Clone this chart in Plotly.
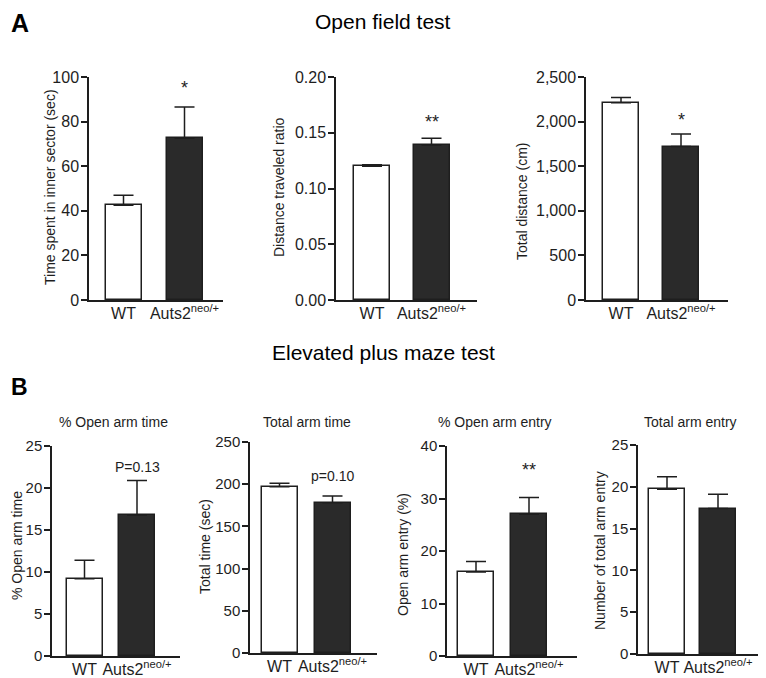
import plotly.graph_objects as go

# group labels
groups = ['WT', 'Auts2<sup>neo/+</sup>']

# panel A: open field test (mean, upper error end)
inner_time = [42.5, 72.5]
inner_time_err = [47.0, 86.5]
dist_ratio = [0.120, 0.139]
dist_ratio_err = [0.1212, 0.145]
total_dist = [2210, 1720]
total_dist_err = [2270, 1860]

# panel B: elevated plus maze (mean, upper error end)
open_arm_time = [9.2, 16.8]
open_arm_time_err = [11.4, 20.9]
total_arm_time = [197, 178]
total_arm_time_err = [201, 186]
open_arm_entry = [16.0, 27.0]
open_arm_entry_err = [18.0, 30.2]
total_arm_entry = [19.7, 17.4]
total_arm_entry_err = [21.2, 19.1]

W, H = 766, 678
OFF = 8  # page body margin
INK = '#1e1e1e'
FONT = 'Liberation Sans, Arial, sans-serif'


def fx(px):
    return (px - OFF) / W


def fy(py):
    return 1 - (py - OFF) / H


panels = [
    # px = (axis, wt centre, auts centre, end), py = (top, bottom), tpos = y-title position
    dict(v=inner_time, e=inner_time_err, yt='Time spent in inner sector (sec)', yr=[0, 100], dt=20, fmt='',
         mark='*', my=95, px=(89, 123.5, 184.5, 223), py=(77, 300), tpos=(50, 187), tf=16, mf=18, ttl=None),
    dict(v=dist_ratio, e=dist_ratio_err, yt='Distance traveled ratio', yr=[0, 0.2], dt=0.05, fmt='.2f',
         mark='**', my=0.16, px=(336, 372, 431.5, 477), py=(77, 300), tpos=(279, 187), tf=16, mf=18, ttl=None),
    dict(v=total_dist, e=total_dist_err, yt='Total distance (cm)', yr=[0, 2500], dt=500, fmt=',',
         mark='*', my=2020, px=(586, 621, 681, 728), py=(77, 300), tpos=(522, 202), tf=16, mf=18, ttl=None),
    dict(v=open_arm_time, e=open_arm_time_err, yt='% Open arm time', yr=[0, 25], dt=5, fmt='',
         mark='P=0.13', my=22.5, px=(52, 84.5, 137, 180), py=(446, 656), tpos=(17, 546), tf=15, mf=14,
         ttl=('% Open arm time', 113)),
    dict(v=total_arm_time, e=total_arm_time_err, yt='Total time (sec)', yr=[0, 250], dt=50, fmt='',
         mark='p=0.10', my=210, px=(250, 279.5, 332.5, 377), py=(442, 653), tpos=(205, 547), tf=15, mf=14,
         ttl=('Total arm time', 307)),
    dict(v=open_arm_entry, e=open_arm_entry_err, yt='Open arm entry (%)', yr=[0, 40], dt=10, fmt='',
         mark='**', my=35.4, px=(447, 476, 529, 577), py=(446, 656), tpos=(403, 555), tf=15, mf=18,
         ttl=('% Open arm entry', 495)),
    dict(v=total_arm_entry, e=total_arm_entry_err, yt='Number of total arm entry', yr=[0, 25], dt=5, fmt='',
         mark='', my=0, px=(638, 667, 718, 766), py=(445, 654), tpos=(600, 551), tf=15, mf=14,
         ttl=('Total arm entry', 690)),
]

fig = go.Figure()
layout = {}
annotations = []

for i, p in enumerate(panels, start=1):
    ax0, c0, c1, ax1 = p['px']
    step = c1 - c0
    xr = [(ax0 - c0) / step, (ax1 - c0) / step]
    bw = 36 / step
    xs = 'x' if i == 1 else f'x{i}'
    ys = 'y' if i == 1 else f'y{i}'
    up = [e - v for v, e in zip(p['v'], p['e'])]
    fig.add_trace(go.Bar(
        x=groups, y=p['v'], width=bw,
        marker=dict(color=['white', '#2a2a2a'], line=dict(color=INK, width=1.5)),
        error_y=dict(type='data', array=up, arrayminus=[0, 0], symmetric=False,
                     color=INK, thickness=1.5, width=10),
        xaxis=xs, yaxis=ys, showlegend=False,
    ))
    top, bot = p['py']
    layout['xaxis' if i == 1 else f'xaxis{i}'] = dict(
        domain=[fx(ax0), fx(ax1)], anchor=ys, range=xr, showgrid=False, zeroline=False,
        showline=True, linecolor=INK, linewidth=1.5, ticks='', automargin=False,
        ticklabelstandoff=-2,
        tickfont=dict(size=16, color=INK, family=FONT), fixedrange=True,
    )
    layout['yaxis' if i == 1 else f'yaxis{i}'] = dict(
        domain=[fy(bot), fy(top)], anchor=xs, range=p['yr'], dtick=p['dt'], tick0=0,
        tickformat=p['fmt'], showgrid=False, zeroline=False, showline=True, linecolor=INK,
        linewidth=1.5, ticks='outside', ticklen=6, tickwidth=1.5, tickcolor=INK,
        automargin=False, ticklabelstandoff=-1,
        tickfont=dict(size=p['tf'], color=INK, family=FONT),
    )
    tx, ty = p['tpos']
    annotations.append(dict(x=fx(tx), y=fy(ty), xref='paper', yref='paper', text=p['yt'],
                            textangle=-90, showarrow=False, xanchor='center', yanchor='middle',
                            font=dict(size=14, color=INK, family=FONT)))
    if p['mark']:
        annotations.append(dict(x=1, y=p['my'], xref=xs, yref=ys, text=p['mark'], showarrow=False,
                                xanchor='center', yanchor='middle',
                                font=dict(size=p['mf'], color=INK, family=FONT)))
    if p['ttl']:
        annotations.append(dict(x=fx(p['ttl'][1]), y=fy(422), xref='paper', yref='paper',
                                text=p['ttl'][0], showarrow=False, xanchor='center', yanchor='middle',
                                font=dict(size=14, color=INK, family=FONT)))

annotations += [
    dict(x=fx(9), y=fy(23), xref='paper', yref='paper', text='<b>A</b>', showarrow=False,
         xanchor='left', yanchor='middle', font=dict(size=25, color='black', family=FONT)),
    dict(x=fx(383), y=fy(22), xref='paper', yref='paper', text='Open field test', showarrow=False,
         xanchor='center', yanchor='middle', font=dict(size=21, color='black', family=FONT)),
    dict(x=fx(9), y=fy(387), xref='paper', yref='paper', text='<b>B</b>', showarrow=False,
         xanchor='left', yanchor='middle', font=dict(size=23, color='black', family=FONT)),
    dict(x=fx(383), y=fy(352), xref='paper', yref='paper', text='Elevated plus maze test', showarrow=False,
         xanchor='center', yanchor='middle', font=dict(size=21, color='black', family=FONT)),
]

fig.update_layout(
    width=W, height=H, margin=dict(l=0, r=0, t=0, b=0, autoexpand=False),
    plot_bgcolor='white', paper_bgcolor='white',
    annotations=annotations, bargap=0, **layout,
)

fig.write_html('out.html')
